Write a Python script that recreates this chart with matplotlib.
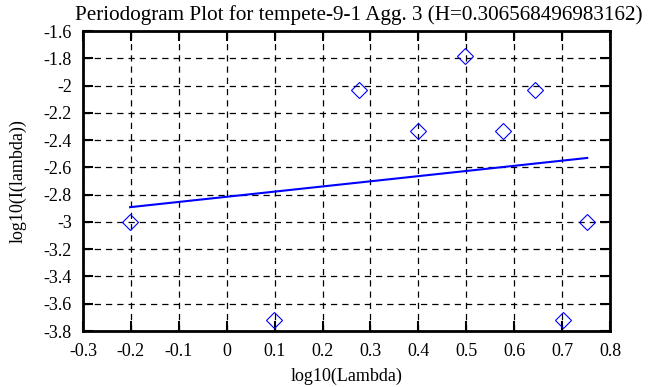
import numpy as np
from matplotlib import pyplot as plt

# periodogram points (k = 1..9)
k = np.arange(1, 10)
log_lambda = np.log10(2 * np.pi * k / 10)
log_I = [-3.00, -3.72, -2.03, -2.33, -1.785, -2.33, -2.03, -3.72, -3.00]

# fitted line endpoints
fit_x = [log_lambda[0], log_lambda[-1]]
fit_y = [-2.892, -2.531]

title = "Periodogram Plot for tempete-9-1 Agg. 3 (H=0.306568496983162)"

plt.rcParams['font.family'] = ['Liberation Serif', 'DejaVu Serif']
plt.rcParams['font.size'] = 13

fig = plt.figure(figsize=(6.58, 3.87), dpi=100)
ax = fig.add_axes([83 / 658, 1 - 331 / 387, 527 / 658, 300 / 387])

ax.plot(log_lambda, log_I, linestyle='none', marker='D', markersize=8,
        markerfacecolor='none', markeredgecolor='blue', markeredgewidth=0.8)
ax.plot(fit_x, fit_y, color='blue', linewidth=1.5)

ax.set_xlim(-0.3, 0.8)
ax.set_ylim(-3.8, -1.6)
ax.set_xticks(np.arange(-0.3, 0.81, 0.1))
ax.set_yticks(np.arange(-3.8, -1.59, 0.2))
ax.set_xticklabels(['-0.3', '-0.2', '-0.1', '0', '0.1', '0.2', '0.3', '0.4',
                    '0.5', '0.6', '0.7', '0.8'])
ax.set_yticklabels(['-3.8', '-3.6', '-3.4', '-3.2', '-3', '-2.8', '-2.6',
                    '-2.4', '-2.2', '-2', '-1.8', '-1.6'])
ax.grid(True, color='black', linestyle=(0, (5, 4)), linewidth=0.9)
ax.tick_params(direction='in', length=7, width=1.5, top=True, right=True,
               labelsize=13)
ax.tick_params(axis='x', pad=9)
ax.tick_params(axis='y', pad=8)
for s in ax.spines.values():
    s.set_linewidth(2)

ax.set_title(title, pad=8, fontsize=15.2, x=0.524)
ax.set_xlabel("log10(Lambda)", labelpad=5)
ax.set_ylabel("log10(I(lambda))", labelpad=12)

fig.savefig("out.png", dpi=100)
